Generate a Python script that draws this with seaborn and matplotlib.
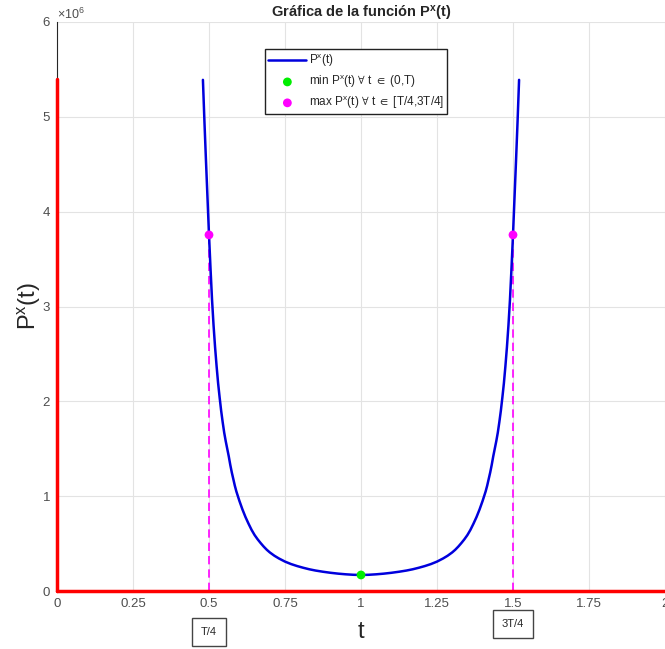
import matplotlib
matplotlib.use('Agg')
import matplotlib.pyplot as plt
import seaborn as sns
import pandas as pd

# valores (P en unidades de 1e6)
t_vals = [0.480, 0.485, 0.490, 0.495, 0.500, 0.505, 0.510, 0.515, 0.520, 0.525,
          0.530, 0.535, 0.540, 0.545, 0.550, 0.555, 0.560, 0.565, 0.570, 0.575,
          0.580, 0.585, 0.590, 0.595, 0.600, 0.610, 0.620, 0.630, 0.640, 0.650,
          0.660, 0.670, 0.680, 0.690, 0.700, 0.715, 0.730, 0.750, 0.770, 0.790,
          0.810, 0.830, 0.850, 0.875, 0.900, 0.925, 0.950, 0.975, 1.000,
          1.025, 1.050, 1.075, 1.100, 1.125, 1.150, 1.170, 1.190, 1.210, 1.230,
          1.250, 1.270, 1.285, 1.300, 1.310, 1.320, 1.330, 1.340, 1.350, 1.360,
          1.370, 1.380, 1.390, 1.400, 1.405, 1.410, 1.415, 1.420, 1.425, 1.430,
          1.435, 1.440, 1.445, 1.450, 1.455, 1.460, 1.465, 1.470, 1.475, 1.480,
          1.485, 1.490, 1.495, 1.500, 1.505, 1.510, 1.515, 1.520]
p_vals = [5.39, 4.95, 4.54, 4.15, 3.755, 3.40, 3.07, 2.80, 2.57, 2.37,
          2.19, 2.04, 1.90, 1.78, 1.67, 1.58, 1.50, 1.42, 1.33, 1.25,
          1.18, 1.11, 1.05, 1.00, 0.95, 0.86, 0.78, 0.71, 0.645, 0.59,
          0.545, 0.505, 0.468, 0.435, 0.407, 0.372, 0.343, 0.31, 0.284, 0.263,
          0.245, 0.229, 0.216, 0.203, 0.192, 0.183, 0.176, 0.171, 0.169,
          0.171, 0.176, 0.183, 0.192, 0.203, 0.216, 0.229, 0.245, 0.263, 0.284,
          0.31, 0.343, 0.372, 0.407, 0.435, 0.468, 0.505, 0.545, 0.59, 0.645,
          0.71, 0.78, 0.86, 0.95, 1.00, 1.05, 1.11, 1.18, 1.25, 1.33,
          1.42, 1.50, 1.58, 1.67, 1.78, 1.90, 2.04, 2.19, 2.37, 2.57,
          2.80, 3.07, 3.40, 3.755, 4.15, 4.54, 4.95, 5.39]

t_min = [1.0]
p_min = [0.169]
t_max = [0.5, 1.5]
p_max = [3.755, 3.755]

red_v_x = [0, 0]
red_v_y = [0, 5.4]
red_h_x = [0, 2]
red_h_y = [0, 0]

x_ticks = [0, 0.25, 0.5, 0.75, 1, 1.25, 1.5, 1.75, 2]
x_tick_labels = ['0', '0.25', '0.5', '0.75', '1', '1.25', '1.5', '1.75', '2']
y_ticks = [0, 1, 2, 3, 4, 5, 6]
y_tick_labels = ['0', '1', '2', '3', '4', '5', '6']

curve = pd.DataFrame({'t': t_vals, 'P': p_vals})
df_min = pd.DataFrame({'t': t_min, 'P': p_min})
df_max = pd.DataFrame({'t': t_max, 'P': p_max})

sns.set_style('whitegrid', {'grid.color': '#e3e3e3'})
plt.rcParams['font.family'] = ['Liberation Sans', 'DejaVu Sans']
plt.rcParams['mathtext.fontset'] = 'custom'
plt.rcParams['mathtext.rm'] = 'Liberation Sans'
plt.rcParams['mathtext.it'] = 'Liberation Sans'
plt.rcParams['mathtext.default'] = 'regular'
plt.rcParams['mathtext.fallback'] = 'stixsans'

fig = plt.figure(figsize=(6.65, 6.49), dpi=100)
ax = fig.add_axes([57 / 665, 58 / 649, 608 / 665, 569 / 649])

ax.plot(red_v_x, red_v_y, color='red', lw=2.5, clip_on=False, zorder=4)
ax.plot(red_h_x, red_h_y, color='red', lw=2.5, clip_on=False, zorder=4)
ax.vlines(t_max, 0, p_max, colors='#ff00ff', linestyles=(0, (5, 3)), lw=1.2, zorder=3)

sns.lineplot(data=curve, x='t', y='P', color='#0000dd', lw=1.8, sort=False,
             ax=ax, label='P$^{x}$(t)', zorder=5)
sns.scatterplot(data=df_min, x='t', y='P', color='#00ee00', s=40, edgecolor='none',
                ax=ax, label=r'min P$^{x}$(t) $\forall$ t $\in$ (0,T)', zorder=6)
sns.scatterplot(data=df_max, x='t', y='P', color='#ff00ff', s=40, edgecolor='none',
                ax=ax, label=r'max P$^{x}$(t) $\forall$ t $\in$ [T/4,3T/4]', zorder=6)

ax.set_xlim(0, 2)
ax.set_ylim(0, 6)
ax.set_xticks(x_ticks)
ax.set_xticklabels(x_tick_labels)
ax.set_yticks(y_ticks)
ax.set_yticklabels(y_tick_labels)
ax.tick_params(direction='in', length=4, width=0.8, color='#333333',
               labelcolor='#4d4d4d', labelsize=9.5, pad=5)
ax.grid(True, lw=0.8)

for s in ['top', 'right']:
    ax.spines[s].set_visible(False)
ax.spines['left'].set_color('#262626')
ax.spines['left'].set_linewidth(0.8)
ax.spines['bottom'].set_visible(False)

ax.set_title('Gráfica de la función P$^{x}$(t)', fontsize=10.5, fontweight='bold', pad=3)
ax.set_xlabel('t', fontsize=17, labelpad=8)
ax.set_ylabel('P$^{x}$(t)', fontsize=17, labelpad=0)
ax.text(0.0, 1.0, '\u00d710$^{6}$', transform=ax.transAxes, fontsize=9,
        color='#4d4d4d', ha='left', va='bottom')

ax.text(0.5, -0.072, 'T/4', transform=ax.get_xaxis_transform(), fontsize=8,
        ha='center', va='center',
        bbox=dict(boxstyle='square,pad=0.85', fc='white', ec='#444444', lw=1))
ax.text(1.5, -0.058, '3T/4', transform=ax.get_xaxis_transform(), fontsize=8,
        ha='center', va='center',
        bbox=dict(boxstyle='square,pad=0.8', fc='white', ec='#444444', lw=1))

leg = ax.legend(loc='upper left', bbox_to_anchor=(0.342, 0.953), borderaxespad=0,
                fontsize=8.5, frameon=True, fancybox=False, framealpha=1,
                edgecolor='#222222', handlelength=3.2, borderpad=0.3,
                labelspacing=0.35, handletextpad=0.2)
leg.get_frame().set_linewidth(1)

fig.savefig('out.png', dpi=100)
